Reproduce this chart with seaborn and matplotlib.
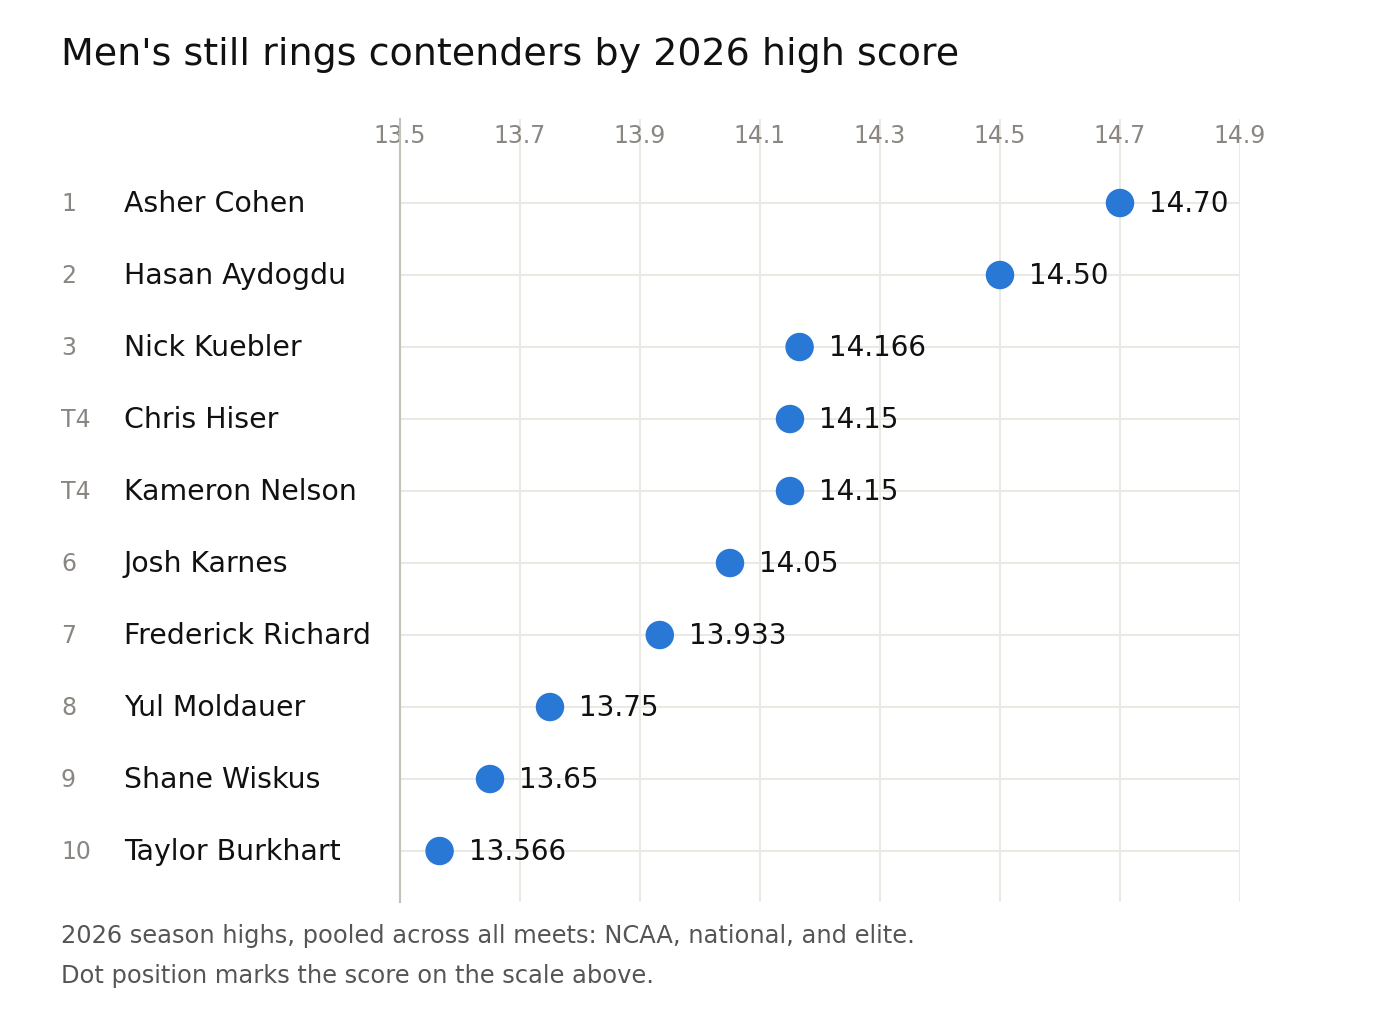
import matplotlib
matplotlib.use("Agg")
import matplotlib.pyplot as plt
import matplotlib.transforms as mtransforms
import seaborn as sns
import pandas as pd

# data
ranks = ["1", "2", "3", "T4", "T4", "6", "7", "8", "9", "10"]
names = ["Asher Cohen", "Hasan Aydogdu", "Nick Kuebler", "Chris Hiser",
         "Kameron Nelson", "Josh Karnes", "Frederick Richard", "Yul Moldauer",
         "Shane Wiskus", "Taylor Burkhart"]
scores = [14.70, 14.50, 14.166, 14.15, 14.15, 14.05, 13.933, 13.75, 13.65, 13.566]
score_labels = ["14.70", "14.50", "14.166", "14.15", "14.15", "14.05",
                "13.933", "13.75", "13.65", "13.566"]
x_ticks = [13.5, 13.7, 13.9, 14.1, 14.3, 14.5, 14.7, 14.9]

df = pd.DataFrame({"rank": ranks, "name": names, "score": scores,
                   "label": score_labels})
df["row"] = range(len(df))

sns.set_style("white")
plt.rcParams["font.family"] = ["DejaVu Sans"]

fig = plt.figure(figsize=(14, 10.2), dpi=100)
ax = fig.add_axes([400 / 1400, 1 - 903 / 1020, 840 / 1400, 783 / 1020])

dot_color = "#2a78d6"
grid_color = "#ebe9e4"

# grid lines
for t in x_ticks:
    ax.axvline(t, color=grid_color, lw=1.5, zorder=0)
for r in df["row"]:
    ax.axhline(r, color=grid_color, lw=1.5, zorder=0)

sns.scatterplot(data=df, x="score", y="row", ax=ax, s=420, color=dot_color,
                edgecolor="none", zorder=3, legend=False)

for _, rec in df.iterrows():
    ax.annotate(rec["label"], (rec["score"], rec["row"]), xytext=(21, 0),
                textcoords="offset points", ha="left", va="center",
                fontsize=20, color="#111111")

ax.set_xlim(13.5, 14.9)
ax.set_ylim(9.708, -1.167)
ax.set_xticks(x_ticks)
ax.set_xticklabels([f"{t:.1f}" for t in x_ticks])
ax.set_yticks([])
ax.set_xlabel("")
ax.set_ylabel("")
ax.xaxis.set_ticks_position("top")
ax.tick_params(axis="x", top=True, bottom=False, labeltop=True,
               labelbottom=False, length=0, pad=-20, labelsize=17,
               labelcolor="#8a8782")
for side in ["top", "right", "bottom"]:
    ax.spines[side].set_visible(False)
ax.spines["left"].set_color("#c4c2b8")
ax.spines["left"].set_linewidth(1.5)

# rank and name labels on the left
trans = mtransforms.blended_transform_factory(fig.transFigure, ax.transData)
for _, rec in df.iterrows():
    ax.text(61 / 1400, rec["row"], rec["rank"], transform=trans, ha="left",
            va="center", fontsize=17, color="#8a8782")
    ax.text(124 / 1400, rec["row"], rec["name"], transform=trans, ha="left",
            va="center", fontsize=20.4, color="#111111")

fig.text(61 / 1400, 1 - 55 / 1020, "Men's still rings contenders by 2026 high score",
         ha="left", va="center", fontsize=27.4, color="#111111")
fig.text(61 / 1400, 1 - 936 / 1020,
         "2026 season highs, pooled across all meets: NCAA, national, and elite.",
         ha="left", va="center", fontsize=17.4, color="#555555")
fig.text(61 / 1400, 1 - 976 / 1020,
         "Dot position marks the score on the scale above.",
         ha="left", va="center", fontsize=17.4, color="#555555")

fig.savefig("out.png", dpi=100, facecolor="white")
